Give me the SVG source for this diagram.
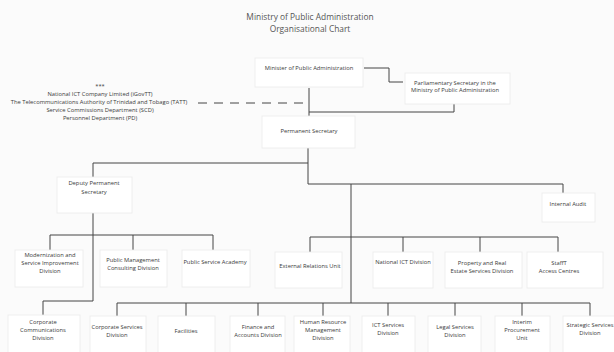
<svg xmlns="http://www.w3.org/2000/svg" width="614" height="352" viewBox="0 0 614 352">
<style>
.bg{fill:#fbfbfb}
.box{fill:#ffffff;stroke:#ebebeb;stroke-width:0.8}
.t{font-family:"Open Sans","Liberation Sans",sans-serif;font-size:5.8px;fill:#3a3a3a;text-anchor:middle}
.title{font-family:"Open Sans","Liberation Sans",sans-serif;font-size:8.4px;fill:#555;text-anchor:middle}
.ln{fill:none;stroke:#444;stroke-width:1}
.dash{fill:none;stroke:#444;stroke-width:1;stroke-dasharray:9,7}
</style>
<rect class="bg" x="0" y="0" width="614" height="352"/>
<g id="title">
<text class="title" x="310" y="20">Ministry of Public Administration</text>
<text class="title" x="310" y="32">Organisational Chart</text>
</g>
<g id="connectors">
<polyline class="ln" points="364,68 389,68 389,82 403,82"/>
<line class="ln" x1="309" y1="88" x2="309" y2="116"/>
<polyline class="ln" points="309,112 454,112 454,104"/>
<line class="dash" x1="198" y1="103" x2="309" y2="103"/>
<line class="ln" x1="308" y1="148" x2="308" y2="184"/>
<polyline class="ln" points="308,163 93,163 93,177"/>
<polyline class="ln" points="308,184 563,184 563,193"/>
<line class="ln" x1="351" y1="184" x2="351" y2="303"/>
<line class="ln" x1="310" y1="237" x2="558" y2="237"/>
<line class="ln" x1="310" y1="237" x2="310" y2="252"/>
<line class="ln" x1="403" y1="237" x2="403" y2="252"/>
<line class="ln" x1="480" y1="237" x2="480" y2="252"/>
<line class="ln" x1="558" y1="237" x2="558" y2="252"/>
<line class="ln" x1="93" y1="213" x2="93" y2="301"/>
<line class="ln" x1="50" y1="235" x2="213" y2="235"/>
<line class="ln" x1="50" y1="235" x2="50" y2="250"/>
<line class="ln" x1="133" y1="235" x2="133" y2="250"/>
<line class="ln" x1="213" y1="235" x2="213" y2="250"/>
<polyline class="ln" points="93,301 43,301 43,315"/>
<line class="ln" x1="117" y1="303" x2="590" y2="303"/>
<line class="ln" x1="117" y1="303" x2="117" y2="316"/>
<line class="ln" x1="186" y1="303" x2="186" y2="316"/>
<line class="ln" x1="258" y1="303" x2="258" y2="316"/>
<line class="ln" x1="323" y1="303" x2="323" y2="316"/>
<line class="ln" x1="388" y1="303" x2="388" y2="316"/>
<line class="ln" x1="455" y1="303" x2="455" y2="316"/>
<line class="ln" x1="522" y1="303" x2="522" y2="316"/>
<line class="ln" x1="590" y1="303" x2="590" y2="316"/>
</g>
<g id="associates">
<text class="t" x="100" y="88">***</text>
<text class="t" x="100" y="96">National ICT Company Limited (iGovTT)</text>
<text class="t" x="99" y="104">The Telecommunications Authority of Trinidad and Tobago (TATT)</text>
<text class="t" x="100" y="112">Service Commissions Department (SCD)</text>
<text class="t" x="100" y="120">Personnel Department (PD)</text>
</g>
<g id="minister"><rect class="box" x="255" y="58" width="108" height="29"/><text class="t" x="309" y="70">Minister of Public Administration</text></g>
<g id="parl-sec"><rect class="box" x="405" y="73" width="105" height="31"/><text class="t" x="455" y="85">Parliamentary Secretary in the</text><text class="t" x="455" y="92">Ministry of Public Administration</text></g>
<g id="perm-sec"><rect class="box" x="262" y="116" width="93" height="32"/><text class="t" x="309" y="133">Permanent Secretary</text></g>
<g id="deputy"><rect class="box" x="57" y="177" width="75" height="36"/><text class="t" x="94" y="185">Deputy Permanent</text><text class="t" x="94" y="194">Secretary</text></g>
<g id="internal-audit"><rect class="box" x="542" y="193" width="53" height="29"/><text class="t" x="568" y="206">Internal Audit</text></g>
<g id="modernization"><rect class="box" x="15" y="250" width="68" height="37"/><text class="t" x="50" y="257">Modernization and</text><text class="t" x="50" y="265">Service Improvement</text><text class="t" x="50" y="273">Division</text></g>
<g id="pmcd"><rect class="box" x="100" y="250" width="67" height="37"/><text class="t" x="133" y="262">Public Management</text><text class="t" x="133" y="270">Consulting Division</text></g>
<g id="psa"><rect class="box" x="182" y="250" width="68" height="37"/><text class="t" x="215" y="264">Public Service Academy</text></g>
<g id="external"><rect class="box" x="275" y="252" width="67" height="36"/><text class="t" x="310" y="268">External Relations Unit</text></g>
<g id="nict"><rect class="box" x="373" y="252" width="60" height="36"/><text class="t" x="403" y="264">National ICT Division</text></g>
<g id="property"><rect class="box" x="445" y="252" width="77" height="36"/><text class="t" x="482" y="265">Property and Real</text><text class="t" x="482" y="273">Estate Services Division</text></g>
<g id="access"><rect class="box" x="527" y="252" width="76" height="36"/><text class="t" x="559" y="265">StaffT</text><text class="t" x="559" y="273">Access Centres</text></g>
<g id="corp-comms"><rect class="box" x="8" y="315" width="72" height="40"/><text class="t" x="43" y="324">Corporate</text><text class="t" x="43" y="332">Communications</text><text class="t" x="43" y="340">Division</text></g>
<g id="corp-services"><rect class="box" x="90" y="316" width="56" height="40"/><text class="t" x="117" y="329">Corporate Services</text><text class="t" x="117" y="337">Division</text></g>
<g id="facilities"><rect class="box" x="158" y="316" width="57" height="40"/><text class="t" x="186" y="333">Facilities</text></g>
<g id="finance"><rect class="box" x="230" y="316" width="55" height="40"/><text class="t" x="258" y="329">Finance and</text><text class="t" x="258" y="337">Accounts Division</text></g>
<g id="hrm"><rect class="box" x="294" y="316" width="56" height="40"/><text class="t" x="323" y="324">Human Resource</text><text class="t" x="323" y="332">Management</text><text class="t" x="323" y="340">Division</text></g>
<g id="ict-services"><rect class="box" x="362" y="316" width="53" height="40"/><text class="t" x="388" y="327">ICT Services</text><text class="t" x="388" y="335">Division</text></g>
<g id="legal"><rect class="box" x="428" y="316" width="53" height="40"/><text class="t" x="455" y="329">Legal Services</text><text class="t" x="455" y="337">Division</text></g>
<g id="procurement"><rect class="box" x="495" y="316" width="55" height="40"/><text class="t" x="522" y="324">Interim</text><text class="t" x="522" y="332">Procurement</text><text class="t" x="522" y="340">Unit</text></g>
<g id="strategic"><rect class="box" x="563" y="316" width="55" height="40"/><text class="t" x="590" y="327">Strategic Services</text><text class="t" x="590" y="335">Division</text></g>
</svg>
